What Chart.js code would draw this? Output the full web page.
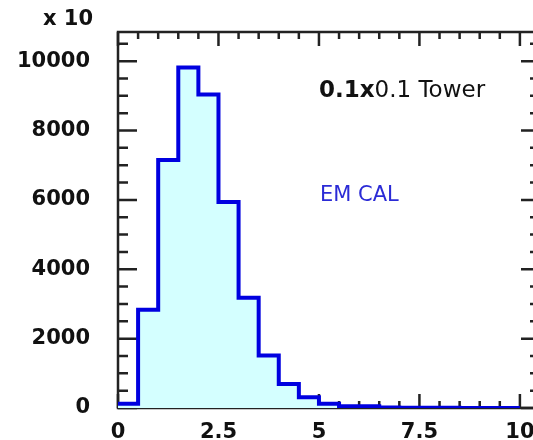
<!DOCTYPE html>
<html>
<head>
<meta charset="utf-8">
<script src="https://cdn.jsdelivr.net/npm/chart.js@4.4.1/dist/chart.umd.min.js"></script>
<style>
  html, body { margin: 0; padding: 0; background: #fff; }
  #wrap { width: 533px; height: 440px; overflow: hidden; }
</style>
</head>
<body>
<div id="wrap"><canvas id="histo" width="545" height="440"></canvas></div>
<script>
// histogram data (values in units of x 10)
var binEdges = [0, 0.5, 1, 1.5, 2, 2.5, 3, 3.5, 4, 4.5, 5, 5.5, 6, 6.5, 7, 7.5, 8, 8.5, 9, 9.5, 10];
var counts = [120, 2830, 7150, 9820, 9040, 5940, 3180, 1510, 690, 310, 120, 50, 50, 15, 10, 5, 5, 0, 0, 0];

var xTickLabels = [0, 2.5, 5, 7.5, 10];
var yTickLabels = [0, 2000, 4000, 6000, 8000, 10000];
var xMinorStep = 0.5;
var yMinorStep = 500;

var xMax = 10.5;
var yMax = 10840;

var labelFont = { family: "DejaVu Sans", size: 21, weight: "bold" };

// step points: left edge of each bin, closing point at the last edge
var points = binEdges.map(function (x, i) {
    return { x: x, y: counts[Math.min(i, counts.length - 1)] };
});

// frame + inward ticks, like the old PAW plots
var framePlugin = {
    id: "frame",
    beforeDatasetsDraw: function (chart) {
        var ctx = chart.ctx;
        var a = chart.chartArea;
        var xs = chart.scales.x, ys = chart.scales.y;
        ctx.save();
        ctx.strokeStyle = "#222";
        ctx.lineWidth = 2.5;
        ctx.strokeRect(a.left, a.top, a.right - a.left, a.bottom - a.top);
        ctx.beginPath();
        var v, px, len;
        for (v = 0; v < xMax - 1e-6; v += xMinorStep) {
            px = xs.getPixelForValue(v);
            len = xTickLabels.indexOf(v) >= 0 ? 14 : 7;
            ctx.moveTo(px, a.bottom); ctx.lineTo(px, a.bottom - len);
            ctx.moveTo(px, a.top); ctx.lineTo(px, a.top + len);
        }
        for (v = 0; v < yMax; v += yMinorStep) {
            px = ys.getPixelForValue(v);
            len = yTickLabels.indexOf(v) >= 0 ? 19 : 10;
            ctx.moveTo(a.left, px); ctx.lineTo(a.left + len, px);
            ctx.moveTo(a.right, px); ctx.lineTo(a.right - len, px);
        }
        ctx.stroke();
        ctx.restore();
    },
    afterDraw: function (chart) {
        var ctx = chart.ctx;
        ctx.save();
        ctx.fillStyle = "#111";
        ctx.textBaseline = "alphabetic";
        ctx.textAlign = "right";
        ctx.font = "bold 21px 'DejaVu Sans'";
        ctx.fillText("x 10", 93, 25);

        ctx.textAlign = "left";
        ctx.font = "bold 23px 'DejaVu Sans'";
        var w = ctx.measureText("0.1x").width;
        ctx.fillText("0.1x", 319, 97);
        ctx.font = "23px 'DejaVu Sans'";
        ctx.fillText("0.1 Tower", 319 + w, 97);

        ctx.fillStyle = "#2b2bd6";
        ctx.font = "21px 'DejaVu Sans'";
        ctx.fillText("EM CAL", 320, 201);
        ctx.restore();
    }
};

var ctxHisto = document.getElementById("histo").getContext("2d");
var myHisto = new Chart(ctxHisto, {
    type: "line",
    data: {
        datasets: [{
            data: points,
            stepped: true,
            borderColor: "#0000e0",
            borderWidth: 4,
            backgroundColor: "#d4ffff",
            fill: "origin",
            pointRadius: 0
        }]
    },
    options: {
        responsive: false,
        devicePixelRatio: 1,
        animation: false,
        layout: { padding: { top: 32, right: 5, left: 0, bottom: 0 } },
        plugins: {
            legend: { display: false },
            tooltip: { enabled: false }
        },
        scales: {
            x: {
                type: "linear",
                min: 0,
                max: xMax,
                afterBuildTicks: function (s) {
                    s.ticks = xTickLabels.map(function (v) { return { value: v }; });
                },
                afterFit: function (s) {
                    s.height = 32;
                    s.paddingLeft = 0; s.paddingRight = 0;
                    s.paddingTop = 0; s.paddingBottom = 0;
                },
                grid: { display: false, drawTicks: false },
                border: { display: false },
                ticks: {
                    font: labelFont,
                    color: "#111",
                    padding: 12,
                    maxRotation: 0,
                    autoSkip: false,
                    callback: function (v) { return String(v); }
                }
            },
            y: {
                min: 0,
                max: yMax,
                afterBuildTicks: function (s) {
                    s.ticks = yTickLabels.map(function (v) { return { value: v }; });
                },
                afterFit: function (s) {
                    s.width = 118;
                    s.paddingLeft = 0; s.paddingRight = 0;
                    s.paddingTop = 0; s.paddingBottom = 0;
                },
                grid: { display: false, drawTicks: false },
                border: { display: false },
                ticks: {
                    font: labelFont,
                    color: "#111",
                    padding: 28,
                    callback: function (v) { return String(v); }
                }
            }
        }
    },
    plugins: [framePlugin]
});
</script>
</body>
</html>
